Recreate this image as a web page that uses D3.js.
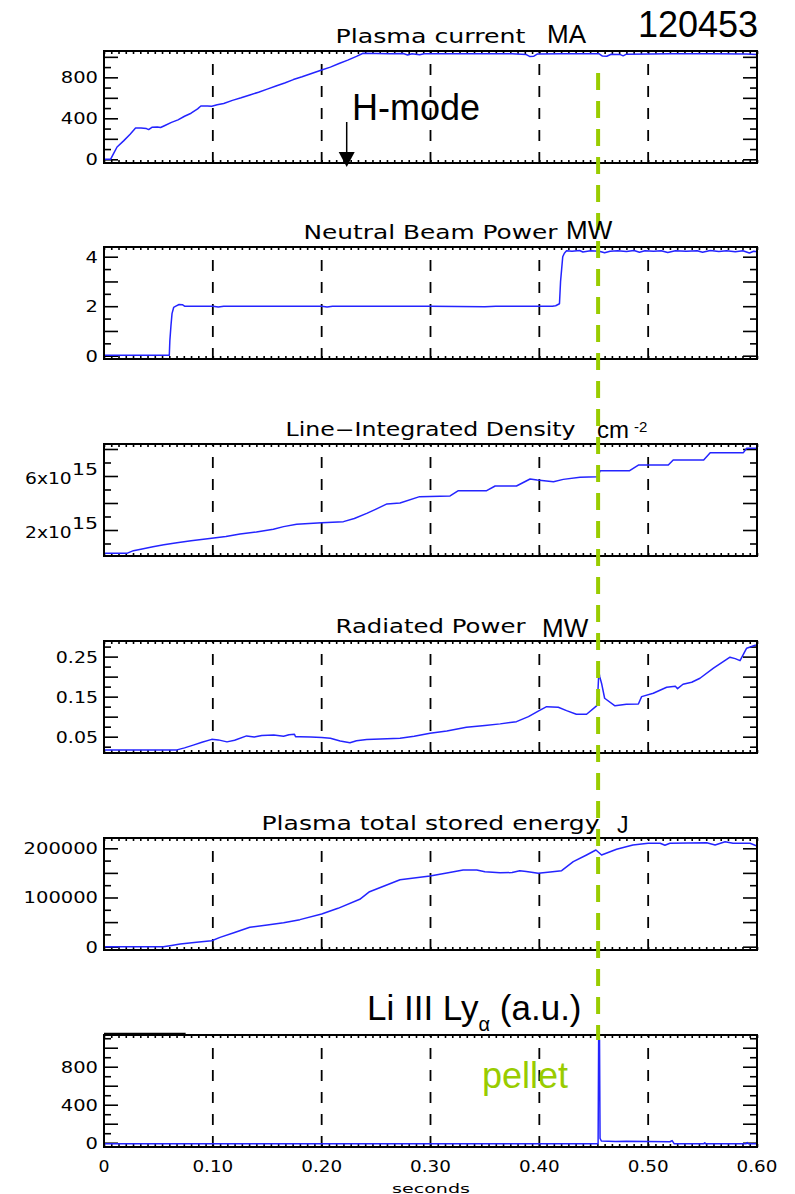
<!DOCTYPE html>
<html>
<head>
<meta charset="utf-8">
<script src="https://cdn.jsdelivr.net/npm/d3@7"></script>
<style>
  html, body { margin: 0; padding: 0; background: #fff; }
  svg { display: block; }
</style>
</head>
<body>
<svg id="chart" width="795" height="1194"></svg>
<script>
// ---- Shot 120453 time traces: [time (s), value] ----
const plasmaCurrent = [
  [0,0],[0.006,0],[0.009,60],[0.012,120],[0.018,180],[0.024,245],[0.029,305],[0.034,306],
  [0.039,300],[0.041,290],[0.044,312],[0.049,316],[0.052,310],[0.056,330],[0.062,360],
  [0.068,385],[0.074,420],[0.080,450],[0.086,492],[0.089,520],[0.095,521],[0.099,517],
  [0.104,532],[0.110,545],[0.118,575],[0.126,600],[0.134,628],[0.142,655],[0.150,685],
  [0.158,715],[0.166,745],[0.174,778],[0.182,805],[0.190,835],[0.200,871],[0.208,900],
  [0.216,935],[0.224,968],[0.232,1005],[0.238,1035],[0.250,1033],[0.262,1030],[0.275,1032],
  [0.279,1018],[0.283,1030],[0.290,1020],[0.294,1031],[0.330,1031],[0.360,1030],[0.375,1029],
  [0.388,1022],[0.391,1004],[0.395,1006],[0.398,1027],[0.420,1030],[0.440,1030],[0.455,1029],
  [0.458,1008],[0.462,1006],[0.466,1025],[0.474,1024],[0.477,1010],[0.480,1026],[0.520,1029],
  [0.560,1029],[0.590,1027],[0.600,1024]
];

const beamPower = [
  [0,0.02],[0.060,0.02],[0.0605,0.6],[0.0615,1.2],[0.0625,1.7],[0.064,1.95],[0.066,2.0],
  [0.069,2.07],[0.072,2.06],[0.074,2.0],[0.100,2.0],[0.105,1.97],[0.110,2.0],[0.200,2.0],
  [0.205,1.97],[0.210,2.0],[0.300,2.0],[0.350,1.98],[0.360,2.0],[0.412,2.0],[0.415,2.02],
  [0.4185,2.1],[0.4195,3.0],[0.4205,3.5],[0.4215,4.0],[0.423,4.14],[0.425,4.24],[0.430,4.22],
  [0.437,4.25],[0.440,4.19],[0.447,4.24],[0.455,4.22],[0.460,4.16],[0.465,4.22],[0.472,4.24],
  [0.480,4.21],[0.487,4.25],[0.492,4.18],[0.497,4.24],[0.505,4.22],[0.512,4.24],[0.518,4.17],
  [0.525,4.24],[0.535,4.22],[0.545,4.24],[0.550,4.18],[0.557,4.25],[0.565,4.21],[0.572,4.24],
  [0.580,4.20],[0.587,4.24],[0.593,4.15],[0.597,4.22],[0.600,4.20]
];

const lineDensity = [
  [0,0.27e15],[0.021,0.27e15],[0.027,0.47e15],[0.035,0.60e15],[0.045,0.76e15],[0.055,0.90e15],
  [0.067,1.06e15],[0.080,1.20e15],[0.099,1.38e15],[0.112,1.52e15],[0.125,1.70e15],
  [0.140,1.85e15],[0.1556,2.05e15],[0.165,2.25e15],[0.177,2.42e15],[0.200,2.54e15],
  [0.220,2.62e15],[0.230,2.85e15],[0.2414,3.23e15],[0.250,3.55e15],[0.260,3.93e15],
  [0.272,4.00e15],[0.290,4.47e15],[0.318,4.52e15],[0.3256,4.91e15],[0.3516,4.91e15],
  [0.3594,5.26e15],[0.379,5.26e15],[0.3915,5.78e15],[0.398,5.70e15],[0.413,5.58e15],
  [0.422,5.75e15],[0.4374,5.90e15],[0.4535,5.95e15],[0.456,6.39e15],[0.483,6.39e15],
  [0.491,6.81e15],[0.5185,6.81e15],[0.523,7.19e15],[0.551,7.19e15],[0.557,7.73e15],
  [0.5875,7.73e15],[0.5905,8.05e15],[0.600,8.05e15]
];

const radiatedPower = [
  [0,0.017],[0.067,0.017],[0.074,0.022],[0.082,0.029],[0.090,0.036],[0.099,0.0433],
  [0.105,0.042],[0.113,0.037],[0.120,0.041],[0.131,0.052],[0.138,0.049],[0.145,0.053],
  [0.156,0.054],[0.165,0.051],[0.170,0.055],[0.175,0.056],[0.176,0.050],[0.180,0.050],
  [0.190,0.049],[0.200,0.048],[0.208,0.046],[0.217,0.039],[0.226,0.035],[0.232,0.040],
  [0.2414,0.043],[0.260,0.045],[0.272,0.046],[0.285,0.051],[0.2996,0.0585],[0.315,0.064],
  [0.333,0.0735],[0.350,0.078],[0.364,0.082],[0.379,0.0875],[0.390,0.100],[0.399,0.114],
  [0.4067,0.125],[0.4174,0.1235],[0.425,0.115],[0.434,0.106],[0.4434,0.106],[0.4526,0.127],
  [0.4536,0.150],[0.4547,0.2125],[0.4555,0.200],[0.4572,0.183],[0.460,0.146],[0.4695,0.127],
  [0.480,0.131],[0.491,0.1318],[0.494,0.150],[0.5047,0.1585],[0.517,0.1735],[0.525,0.176],
  [0.527,0.170],[0.532,0.181],[0.540,0.186],[0.5476,0.196],[0.560,0.221],[0.5752,0.2485],
  [0.580,0.245],[0.5844,0.240],[0.5905,0.271],[0.599,0.279]
];

const storedEnergy = [
  [0,0],[0.0545,0],[0.062,2500],[0.070,5500],[0.085,9000],[0.099,12200],[0.1066,19000],
  [0.120,29000],[0.134,39400],[0.150,44000],[0.165,48800],[0.180,55000],[0.200,66500],
  [0.215,78000],[0.235,96300],[0.244,111800],[0.258,124000],[0.272,136000],[0.2996,143700],
  [0.315,150000],[0.330,155900],[0.3425,155900],[0.350,152500],[0.364,150400],[0.375,150600],
  [0.382,154500],[0.388,153000],[0.399,149200],[0.410,152000],[0.4205,154500],[0.4312,172800],
  [0.4434,186400],[0.452,196500],[0.4572,186400],[0.471,198000],[0.486,206700],[0.500,210200],
  [0.511,210200],[0.5154,206100],[0.520,210200],[0.5538,211400],[0.5615,206700],
  [0.5707,213400],[0.578,210200],[0.5936,210200],[0.600,204700]
];

const liLymanAlpha = [
  [0,-12],[0.454,-12],[0.4545,1081],[0.4553,1081],[0.4558,45],[0.457,18],[0.470,12],
  [0.480,16],[0.500,12],[0.520,10],[0.522,22],[0.524,-12],[0.551,-12],[0.552,0],[0.553,-12],
  [0.590,-12],[0.591,2],[0.592,-12],[0.600,-12]
];

// ---- Axes: labelled ticks and axis ranges ----
const timeTicks = [0, 0.1, 0.2, 0.3, 0.4, 0.5, 0.6];
const timeTickLabels = ["0", "0.10", "0.20", "0.30", "0.40", "0.50", "0.60"];
const gridTimes = [0.1, 0.2, 0.3, 0.4, 0.5];

const currentTicks = [0, 400, 800];
const beamTicks = [0, 2, 4];
const densityTicks = [2e15, 6e15];
const densityTickLabels = [["2x10", "15"], ["6x10", "15"]];
const radiatedTicks = [0.05, 0.15, 0.25];
const energyTicks = [0, 100000, 200000];
const lymanTicks = [0, 400, 800];

const panelTitles = ["Plasma current", "Neutral Beam Power", "Line\u2212Integrated Density",
                     "Radiated Power", "Plasma total stored energy", ""];

const pelletTime = 0.454;   // pellet injection
const hModeTime = 0.223;    // L-H transition

// ---- Layout ----
const svg = d3.select("#chart");
const x = d3.scaleLinear().domain([0, 0.6]).range([104, 757]);
const panelTop = [51, 247, 444, 641, 838, 1035];
const H = 112;
const IDL_FONT = "'DejaVu Sans', sans-serif";
const ANNO_FONT = "'Liberation Sans', Arial, sans-serif";
const TRACE = "#2424ff";
const PELLET = "#99cc00";

const panels = [
  { data: plasmaCurrent, range: [-36, 1057], step: 100, last: 1000, labels: currentTicks,
    fmt: d3.format("d"), titleWidth: 190 },
  { data: beamPower, range: [-0.133, 4.392], step: 0.5, last: 4, labels: beamTicks,
    fmt: d3.format("d"), titleWidth: 254 },
  { data: lineDensity, range: [0.074e15, 8.37e15], step: 1e15, last: 8e15, labels: densityTicks,
    sup: densityTickLabels, titleWidth: 290 },
  { data: radiatedPower, range: [0.00925, 0.289], step: 0.025, last: 0.275, labels: radiatedTicks,
    fmt: d3.format(".2f"), titleWidth: 190 },
  { data: storedEnergy, range: [-6700, 220900], step: 25000, last: 200000, labels: energyTicks,
    fmt: d3.format("d"), titleWidth: 338 },
  { data: liLymanAlpha, range: [-45, 1134], step: 100, last: 1100, labels: lymanTicks,
    fmt: d3.format("d"), titleWidth: 0 }
];

// IDL-style wide glyphs: each digit ~12.4px, a dot ~5px
function labelWidth(s) {
  let w = 0;
  for (const c of s) w += (c === "." ? 5 : 12.4);
  return w;
}

const xMinor = d3.range(0, 91).map(k => k * 0.6 / 90);
const defs = svg.append("defs");

panels.forEach((p, i) => {
  const top = panelTop[i];
  const y = d3.scaleLinear().domain(p.range).range([top + H, top]);
  const g = svg.append("g");

  defs.append("clipPath").attr("id", "clip" + i)
    .append("rect").attr("x", 104).attr("y", top).attr("width", 653).attr("height", H);

  // dashed vertical grid at every 0.1 s
  g.selectAll("line.grid").data(gridTimes).join("line")
    .attr("class", "grid")
    .attr("x1", d => x(d)).attr("x2", d => x(d))
    .attr("y1", top + H).attr("y2", top)
    .attr("stroke", "#000").attr("stroke-width", 1.8)
    .attr("stroke-dasharray", "11,11");

  // minor time ticks on top and bottom edges
  const clean = sel => { sel.select(".domain").remove(); sel.selectAll("text").remove();
                         sel.selectAll("line").attr("stroke-width", 1.6); };
  g.append("g").attr("transform", `translate(0,${top})`)
    .call(d3.axisBottom(x).tickValues(xMinor).tickSize(3).tickFormat("")).call(clean);
  g.append("g").attr("transform", `translate(0,${top + H})`)
    .call(d3.axisTop(x).tickValues(xMinor).tickSize(3).tickFormat("")).call(clean);

  // value ticks: long every 2nd step, short in between, on both sides
  const all = d3.range(0, Math.round(p.last / p.step) + 1).map(k => +(k * p.step).toPrecision(10))
    .filter(v => v >= p.range[0] && v <= p.range[1] && !(i === 3 && v === 0));
  const longT = all.filter(v => Math.round(v / p.step) % 2 === 0);
  const shortT = all.filter(v => Math.round(v / p.step) % 2 !== 0);
  const sides = [[d3.axisLeft, 104], [d3.axisRight, 757]];
  sides.forEach(([ax, xp]) => {
    g.append("g").attr("transform", `translate(${xp},0)`)
      .call(ax(y).tickValues(longT).tickSize(-14).tickFormat("")).call(clean);
    g.append("g").attr("transform", `translate(${xp},0)`)
      .call(ax(y).tickValues(shortT).tickSize(-7).tickFormat("")).call(clean);
  });

  // trace
  g.append("path").datum(p.data)
    .attr("clip-path", `url(#clip${i})`)
    .attr("d", d3.line().x(d => x(d[0])).y(d => y(d[1])))
    .attr("fill", "none").attr("stroke", TRACE)
    .attr("stroke-width", 1.5).attr("stroke-linejoin", "round");

  // frame
  g.append("rect").attr("x", 104).attr("y", top).attr("width", 653).attr("height", H)
    .attr("fill", "none").attr("stroke", "#000").attr("stroke-width", 2);

  // value labels
  p.labels.forEach((v, j) => {
    if (p.sup) {
      const [base, ex] = p.sup[j];
      g.append("text").attr("x", 25).attr("y", y(v) + 8)
        .attr("font-family", IDL_FONT).attr("font-size", 16)
        .attr("textLength", 46.7).attr("lengthAdjust", "spacingAndGlyphs").text(base);
      g.append("text").attr("x", 72).attr("y", y(v) - 1)
        .attr("font-family", IDL_FONT).attr("font-size", 16)
        .attr("textLength", 26).attr("lengthAdjust", "spacingAndGlyphs").text(ex);
    } else {
      const s = p.fmt(v);
      g.append("text").attr("x", 98).attr("y", y(v) + 6).attr("text-anchor", "end")
        .attr("font-family", IDL_FONT).attr("font-size", 16)
        .attr("textLength", labelWidth(s)).attr("lengthAdjust", "spacingAndGlyphs").text(s);
    }
  });

  // title
  if (panelTitles[i]) {
    g.append("text").attr("x", 430.5).attr("y", top - 8.5).attr("text-anchor", "middle")
      .attr("font-family", IDL_FONT).attr("font-size", 19)
      .attr("textLength", p.titleWidth).attr("lengthAdjust", "spacingAndGlyphs")
      .text(panelTitles[i]);
  }
});

// doubled top edge segment on the last panel
svg.append("line").attr("x1", x(0)).attr("x2", x(0.075))
  .attr("y1", panelTop[5] - 1.5).attr("y2", panelTop[5] - 1.5)
  .attr("stroke", "#000").attr("stroke-width", 1.5);

// time axis labels
const bottom = panelTop[5] + H;
svg.selectAll("text.tlabel").data(timeTicks).join("text")
  .attr("class", "tlabel")
  .attr("x", d => x(d)).attr("y", bottom + 24.5).attr("text-anchor", "middle")
  .attr("font-family", IDL_FONT).attr("font-size", 16)
  .attr("textLength", (d, k) => labelWidth(timeTickLabels[k]) - 1.4)
  .attr("lengthAdjust", "spacingAndGlyphs")
  .text((d, k) => timeTickLabels[k]);
svg.append("text").attr("x", 431).attr("y", bottom + 45.5).attr("text-anchor", "middle")
  .attr("font-family", IDL_FONT).attr("font-size", 13)
  .attr("textLength", 78).attr("lengthAdjust", "spacingAndGlyphs").text("seconds");

// pellet marker
svg.append("line")
  .attr("x1", x(pelletTime)).attr("x2", x(pelletTime))
  .attr("y1", panelTop[0] + 22).attr("y2", panelTop[5] + 5)
  .attr("stroke", PELLET).attr("stroke-width", 4).attr("stroke-dasharray", "17,11");

// H-mode arrow
const hx = x(hModeTime);
svg.append("line").attr("x1", hx).attr("x2", hx)
  .attr("y1", panelTop[0] + 71).attr("y2", panelTop[0] + 104)
  .attr("stroke", "#000").attr("stroke-width", 1.5);
svg.append("path")
  .attr("d", `M${hx - 8},${panelTop[0] + 101} L${hx + 8},${panelTop[0] + 101} L${hx},${panelTop[0] + 116} Z`)
  .attr("fill", "#000");

// annotations
const anno = (txt, xp, yp, size, color) =>
  svg.append("text").attr("x", xp).attr("y", yp)
    .attr("font-family", ANNO_FONT).attr("font-size", size)
    .attr("fill", color || "#000").text(txt);

anno("120453", 638, 36.5, 36);
anno("MA", 547, 42.5, 26);
anno("H-mode", 352, 120, 36);
anno("MW", 566, 239, 26);
anno("cm", 597, 438, 24);
anno("-2", 634, 431.5, 15);
anno("MW", 542, 636.5, 26);
anno("J", 617, 833, 23);
anno("pellet", 482, 1088, 36, PELLET);

const ly = svg.append("text").attr("x", 367).attr("y", 1020)
  .attr("font-family", ANNO_FONT).attr("font-size", 35).attr("fill", "#000");
ly.append("tspan").text("Li III Ly");
ly.append("tspan").attr("font-size", 20).attr("dy", 11).text("\u03b1");
ly.append("tspan").attr("dy", -11).text(" (a.u.)");
</script>
</body>
</html>
